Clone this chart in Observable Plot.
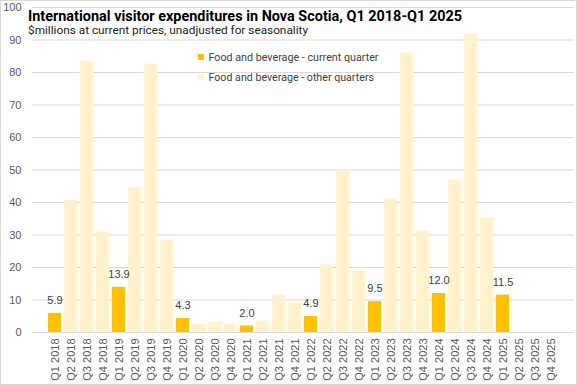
<!DOCTYPE html>
<html>
<head>
<meta charset="utf-8">
<script src="https://cdn.jsdelivr.net/npm/d3@7"></script>
<script src="https://cdn.jsdelivr.net/npm/@observablehq/plot@0.6"></script>
<style>
  html, body { margin: 0; padding: 0; background: #fff; }
  #chart { position: relative; width: 577px; height: 385px; }
</style>
</head>
<body>
<div id="chart"></div>
<script>
const title = "International visitor expenditures in Nova Scotia, Q1 2018-Q1 2025";
const subtitle = "$millions at current prices, unadjusted for seasonality";
const seriesCurrent = "Food and beverage - current quarter";
const seriesOther = "Food and beverage - other quarters";

const quarters = [
  "Q1 2018","Q2 2018","Q3 2018","Q4 2018",
  "Q1 2019","Q2 2019","Q3 2019","Q4 2019",
  "Q1 2020","Q2 2020","Q3 2020","Q4 2020",
  "Q1 2021","Q2 2021","Q3 2021","Q4 2021",
  "Q1 2022","Q2 2022","Q3 2022","Q4 2022",
  "Q1 2023","Q2 2023","Q3 2023","Q4 2023",
  "Q1 2024","Q2 2024","Q3 2024","Q4 2024",
  "Q1 2025","Q2 2025","Q3 2025","Q4 2025"
];
const values = [
  5.9, 40.7, 83.5, 30.9,
  13.9, 44.6, 82.6, 28.5,
  4.3, 2.4, 3.2, 2.4,
  2.0, 3.5, 11.5, 9.1,
  4.9, 20.8, 49.9, 18.9,
  9.5, 41.1, 86.0, 31.2,
  12.0, 46.9, 91.8, 35.2,
  11.5, null, null, null
];
const currentQuarterPrefix = "Q1";
const yTicks = [0,10,20,30,40,50,60,70,80,90,100];

const rows = quarters.map((q, i) => ({
  q, v: values[i],
  s: q.startsWith(currentQuarterPrefix) ? seriesCurrent : seriesOther
})).filter(d => d.v != null);
const currentRows = rows.filter(d => d.s === seriesCurrent);

const W = 577, H = 385;
const plot = Plot.plot({
  width: W, height: H,
  marginLeft: 32, marginRight: 3, marginTop: 7, marginBottom: 53,
  style: { fontFamily: "Liberation Sans, Arial, sans-serif", fontSize: "11px", color: "#595959", background: "#fff" },
  x: { type: "band", domain: quarters, padding: 0.17, label: null },
  y: { domain: [0, 100], ticks: yTicks, label: null },
  color: { domain: [seriesCurrent, seriesOther], range: ["#FFC000", "#FFF2CC"] },
  marks: [
    Plot.gridY(yTicks, { stroke: "#d9d9d9", strokeOpacity: 1 }),
    Plot.barY(rows, { x: "q", y: "v", fill: "s" }),
    Plot.ruleY([0], { stroke: "#d9d9d9" }),
    Plot.text(currentRows, { x: "q", y: "v", text: d => d.v.toFixed(1), dy: -13, fill: "#404040", fontSize: 11 }),
    Plot.axisY(yTicks, { tickSize: 0, tickPadding: 11, fill: "#595959", fontSize: 11 }),
    Plot.axisX({ tickSize: 0, tickRotate: -90, tickPadding: 6, fill: "#595959", fontSize: 11 })
  ]
});

const svg = d3.select(plot);
// outer border
svg.append("rect").attr("x", 0.5).attr("y", 0.5).attr("width", W - 1).attr("height", H - 1)
  .attr("fill", "none").attr("stroke", "#d9d9d9");
// title & subtitle
const overlay = svg.append("g").attr("text-anchor", "start");
overlay.append("text").attr("x", 28).attr("y", 21).text(title)
  .attr("font-family", "Liberation Sans Narrow, Roboto, sans-serif").attr("font-weight", "bold")
  .attr("font-size", 14).attr("fill", "#000").attr("textLength", 434).attr("lengthAdjust", "spacingAndGlyphs");
overlay.append("text").attr("x", 28).attr("y", 34).text(subtitle)
  .attr("font-family", "Liberation Sans Narrow, Roboto, sans-serif")
  .attr("font-size", 11.5).attr("fill", "#222").attr("textLength", 280).attr("lengthAdjust", "spacingAndGlyphs");
// legend
const legend = [
  { label: seriesCurrent, color: "#FFC000", y: 57, len: 170 },
  { label: seriesOther, color: "#FFF2CC", y: 77, len: 165.5 }
];
legend.forEach(l => {
  overlay.append("rect").attr("x", 198).attr("y", l.y - 3).attr("width", 6).attr("height", 6).attr("fill", l.color);
  overlay.append("text").attr("x", 208.5).attr("y", l.y).attr("dy", "0.35em").text(l.label)
    .attr("font-family", "Liberation Sans Narrow, Roboto, sans-serif").attr("font-size", 11.5)
    .attr("fill", "#404040").attr("textLength", l.len).attr("lengthAdjust", "spacingAndGlyphs");
});

document.getElementById("chart").appendChild(plot);
</script>
</body>
</html>
